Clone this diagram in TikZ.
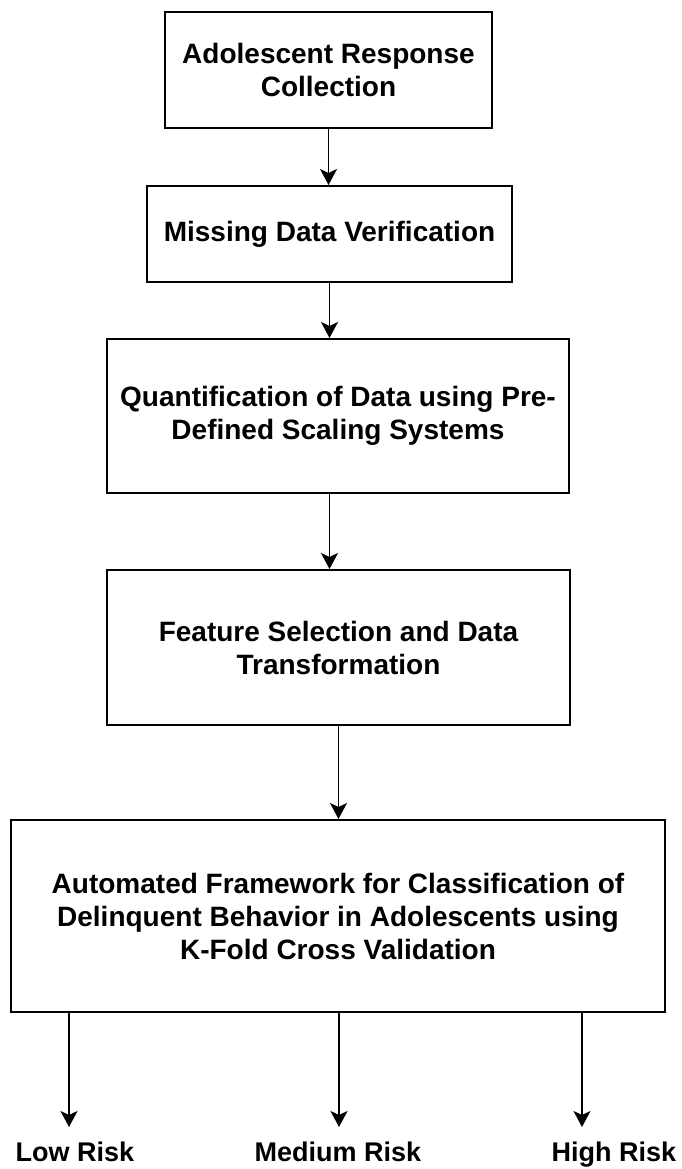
\documentclass[tikz,border=0pt]{standalone}
\usepackage{fontspec}
\setmainfont{Liberation Sans}
\usetikzlibrary{arrows.meta}

\begin{document}
\begin{tikzpicture}[x=1pt, y=-1pt,
    box/.style={draw, line width=2pt, align=center, inner sep=0pt,
      font=\bfseries\fontsize{28}{33}\selectfont},
    risk/.style={inner sep=0pt, anchor=base,
      font=\bfseries\fontsize{27}{32}\selectfont},
    flow/.style={line width=1.8pt, -{Stealth[length=16pt, width=17pt, inset=4pt]}}]

  \useasboundingbox (0,0) rectangle (681,1169);

  % process steps, top to bottom
  \node[box, minimum width=327, minimum height=116] (coll) at (328.5,70)
    {Adolescent Response\\Collection};
  \node[box, minimum width=365, minimum height=96] (miss) at (329.5,234)
    {Missing Data Verification};
  \node[box, minimum width=462, minimum height=154] (quant) at (338,416)
    {Quantification of Data using Pre-\\Defined Scaling Systems};
  \node[box, minimum width=463, minimum height=155] (feat) at (338.5,647.5)
    {Feature Selection and Data\\Transformation};
  \node[box, minimum width=654, minimum height=192] (frame) at (338,916)
    {Automated Framework for Classification of\\Delinquent Behavior in Adolescents using\\K-Fold Cross Validation};

  % outcomes
  \node[risk] (low) at (75,1161) {Low Risk};
  \node[risk] (med) at (338,1161) {Medium Risk};
  \node[risk] (high) at (614,1161) {High Risk};

  % arrow ends above the outcome labels
  \coordinate (lowend) at (69,1127);
  \coordinate (medend) at (339,1127);
  \coordinate (highend) at (582,1127);

  \draw[flow] (coll.south) -- (coll.south |- miss.north);
  \draw[flow] (miss.south) -- (miss.south |- quant.north);
  \draw[flow] (miss.south |- quant.south) -- (miss.south |- feat.north);
  \draw[flow] (feat.south) -- (feat.south |- frame.north);

  \draw[flow] (frame.south -| lowend) -- (lowend);
  \draw[flow] (frame.south -| medend) -- (medend);
  \draw[flow] (frame.south -| highend) -- (highend);
\end{tikzpicture}
\end{document}
